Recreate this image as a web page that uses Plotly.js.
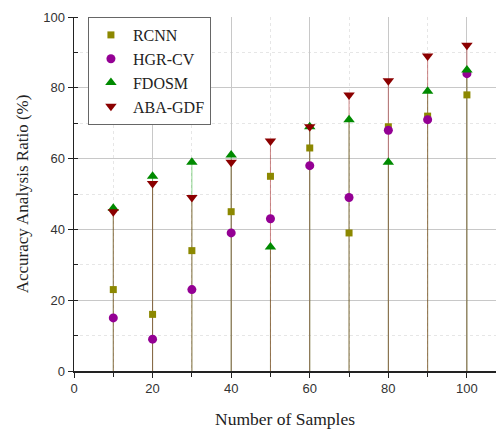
<!DOCTYPE html>
<html><head><meta charset="utf-8">
<script src="https://cdn.plot.ly/plotly-3.0.1.min.js"></script>
<style>html,body{margin:0;padding:0;background:#fff}#chart{width:496px;height:431px}</style>
</head><body><div id="chart"></div>
<script>
const samples = [10, 20, 30, 40, 50, 60, 70, 80, 90, 100];
const rcnn   = [23, 16, 34, 45, 55, 63, 39, 69, 72, 78];
const hgrcv  = [15, 9, 23, 39, 43, 58, 49, 68, 71, 84];
const fdosm  = [46, 55, 59, 61, 35, 69, 71, 59, 79, 85];
const abagdf = [45, 53, 49, 59, 65, 69, 78, 82, 89, 92];
const seriesNames = ['RCNN', 'HGR-CV', 'FDOSM', 'ABA-GDF'];

function dropLine(vals, color) {
  const xs = [], ys = [];
  samples.forEach((s, i) => { xs.push(s, s, null); ys.push(0, vals[i], null); });
  return {x: xs, y: ys, mode: 'lines', line: {color: color, width: 1}, showlegend: false, hoverinfo: 'skip'};
}
function pts(vals, name, color, symbol, size) {
  return {x: samples, y: vals, name: name, mode: 'markers', type: 'scatter',
    marker: {color: color, symbol: symbol, size: size, line: {width: 0}}};
}
const serif = 'Liberation Serif, Times New Roman, serif';
const sans = 'Liberation Sans, Arial, sans-serif';
const data = [
  dropLine(fdosm, 'rgba(0,160,0,0.45)'),
  dropLine(abagdf, 'rgba(160,20,20,0.5)'),
  pts(rcnn, seriesNames[0], '#8c8800', 'square', 7),
  pts(hgrcv, seriesNames[1], '#940094', 'circle', 9),
  pts(fdosm, seriesNames[2], '#008a00', 'triangle-up', 10),
  pts(abagdf, seriesNames[3], '#8b0000', 'triangle-down', 10)
];
const layout = {
  width: 496, height: 431,
  margin: {l: 74, r: 0, t: 17, b: 60},
  paper_bgcolor: '#fff', plot_bgcolor: '#fff',
  showlegend: true,
  legend: {x: 0.033, y: 1, xanchor: 'left', yanchor: 'top',
    bgcolor: '#fff', bordercolor: '#666', borderwidth: 1,
    font: {family: serif, size: 16, color: '#222'},
    tracegroupgap: 0, itemwidth: 34},
  xaxis: {range: [0, 107.4], tickmode: 'linear', tick0: 0, dtick: 20,
    showline: true, linecolor: '#222', linewidth: 1.5, zeroline: false,
    ticks: 'outside', ticklen: 5, tickcolor: '#222',
    showgrid: true, gridcolor: '#c8c8c8', gridwidth: 1,
    minor: {dtick: 10, ticks: 'outside', ticklen: 4, tickcolor: '#222', showgrid: true, gridcolor: '#e6e6e6', griddash: 'dot'},
    tickfont: {family: sans, size: 13, color: '#333'},
    title: {text: 'Number of Samples', font: {family: serif, size: 17.5, color: '#222'}, standoff: 17}},
  yaxis: {range: [0, 100], tickmode: 'linear', tick0: 0, dtick: 20,
    showline: true, linecolor: '#222', linewidth: 1.5, zeroline: false,
    ticks: 'outside', ticklen: 5, tickcolor: '#222',
    showgrid: true, gridcolor: '#c8c8c8', gridwidth: 1,
    minor: {dtick: 10, ticks: 'inside', ticklen: 4, tickcolor: '#222', showgrid: true, gridcolor: '#e6e6e6', griddash: 'dot'},
    tickfont: {family: sans, size: 13, color: '#333'},
    title: {text: 'Accuracy Analysis Ratio (%)', font: {family: serif, size: 17, color: '#222'}, standoff: 10}}
};
Plotly.newPlot('chart', data, layout, {displayModeBar: false, staticPlot: true});
</script></body></html>
